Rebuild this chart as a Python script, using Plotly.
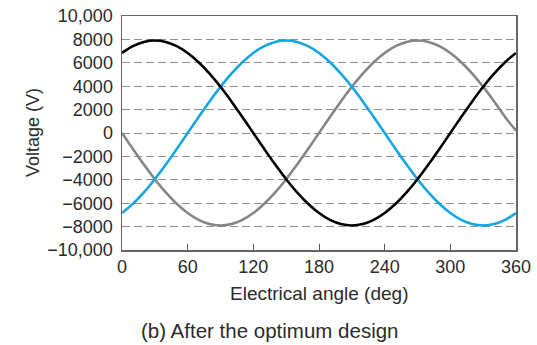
import plotly.graph_objects as go

angle = list(range(0, 361, 10))
black_v = [6842, 7424, 7780, 7900, 7780, 7424, 6842, 6052, 5078, 3950, 2702, 1372, 0,
           -1372, -2702, -3950, -5078, -6052, -6842, -7424, -7780, -7900, -7780, -7424,
           -6842, -6052, -5078, -3950, -2702, -1372, 0, 1372, 2702, 3950, 5078, 6052, 6842]
gray_v = [0, -1372, -2702, -3950, -5078, -6052, -6842, -7424, -7780, -7900, -7780, -7424,
          -6842, -6052, -5078, -3950, -2702, -1372, 0, 1372, 2702, 3950, 5078, 6052, 6842,
          7424, 7780, 7900, 7780, 7424, 6842, 6052, 5078, 3950, 2702, 1372, 200]
blue_v = [-6842, -6052, -5078, -3950, -2702, -1372, 0, 1372, 2702, 3950, 5078, 6052, 6842,
          7424, 7780, 7900, 7780, 7424, 6842, 6052, 5078, 3950, 2702, 1372, 0, -1372, -2702,
          -3950, -5078, -6052, -6842, -7424, -7780, -7900, -7780, -7424, -6842]

y_ticks = [-10000, -8000, -6000, -4000, -2000, 0, 2000, 4000, 6000, 8000, 10000]
y_text = ["\u221210,000", "\u22128000", "\u22126000", "\u22124000", "\u22122000", "0",
          "2000", "4000", "6000", "8000", "10,000"]
x_ticks = [0, 60, 120, 180, 240, 300, 360]

fig = go.Figure()
for vals, col in [(gray_v, "#858585"), (blue_v, "#14a5e3"), (black_v, "#000000")]:
    fig.add_trace(go.Scatter(x=angle, y=vals, mode="lines",
                             line=dict(color=col, width=2.6, shape="spline", smoothing=1.0),
                             showlegend=False, hoverinfo="skip"))

font_family = "Liberation Sans, Arial, sans-serif"
txt = "#2b2b2b"
L, R, T, B = 122, 21, 16, 95
W, H = 537, 345
fig.update_layout(
    template="none",
    width=W, height=H,
    margin=dict(l=L, r=R, t=T, b=B, autoexpand=False),
    paper_bgcolor="white", plot_bgcolor="white",
    font=dict(family=font_family, size=18, color=txt),
    xaxis=dict(range=[0, 360], tickvals=x_ticks, ticks="inside", ticklen=6,
               tickcolor="#555555", showgrid=False, zeroline=False,
               showline=True, linecolor="#666666", linewidth=1.5, mirror=True,
               automargin=False, ticklabeloverflow="allow",
               title=dict(text=""), tickfont=dict(size=18, color=txt)),
    yaxis=dict(range=[-10000, 10000], tickvals=y_ticks, ticktext=y_text, ticks="",
               showgrid=True, gridcolor="#909090", griddash="8px,4px", gridwidth=1,
               zeroline=False, showline=True, linecolor="#666666", linewidth=1.5,
               mirror=True, automargin=False, ticklabeloverflow="allow",
               ticklabelstandoff=4,
               title=dict(text=""), tickfont=dict(size=18, color=txt)),
)
pw = W - L - R
ph = H - T - B
def px(x):
    return (x - L) / pw
def py(y):
    return (H - B - y) / ph
fig.add_annotation(text="Electrical angle (deg)", x=px(319), y=py(293), xref="paper", yref="paper",
                   showarrow=False, xanchor="center", yanchor="middle",
                   font=dict(size=19, color=txt, family=font_family))
fig.add_annotation(text="Voltage (V)", x=px(33), y=py(133), xref="paper", yref="paper",
                   showarrow=False, xanchor="center", yanchor="middle", textangle=-90,
                   font=dict(size=18, color=txt, family=font_family))
fig.add_annotation(text="(b) After the optimum design", x=px(270), y=py(330), xref="paper",
                   yref="paper", showarrow=False, xanchor="center", yanchor="middle",
                   font=dict(size=20.5, color=txt, family=font_family))
fig.write_html("out.html", config={"displayModeBar": False, "staticPlot": True},
               post_script="document.body.style.margin='0';document.body.style.overflow='hidden';")
